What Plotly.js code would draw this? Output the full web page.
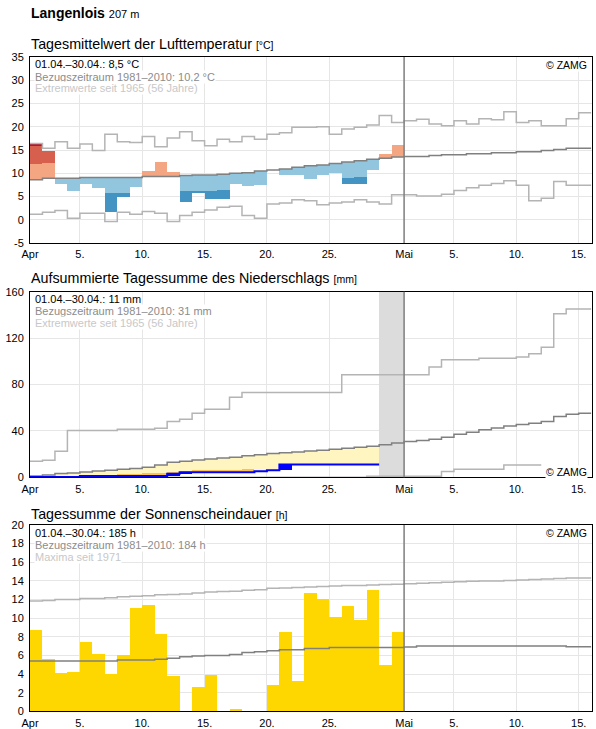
<!DOCTYPE html>
<html><head><meta charset="utf-8">
<script src="https://cdn.plot.ly/plotly-3.0.1.min.js"></script>
<style>body{margin:0;padding:0;background:#fff}#chart{width:596px;height:729px}</style>
</head><body><div id="chart"></div>
<script>
// x axis: days counted from 1 April (0 = start of Apr 1)
const tickVals = [0,4,9,14,19,24,30,34,39,44];
const tickText = ['Apr','5.','10.','15.','20.','25.','Mai','5.','10.','15.'];

// ---- Temperature (°C) ----
const tempActual = [16.4,14.7,7.7,6.2,7.7,6.8,1.6,4.9,7.0,10.4,12.4,10.2,3.8,5.7,4.5,4.5,7.6,7.3,7.5,10.7,9.6,9.6,8.8,9.6,10.0,7.7,7.7,10.7,14.1,16.0];
const tempMean = [8.6,8.9,8.9,8.9,9.1,9.1,9.1,9.1,9.1,9.3,9.3,9.3,9.5,9.6,9.6,9.8,10.0,10.1,10.5,10.7,10.9,11.3,11.6,11.8,12.1,12.4,12.7,13.0,13.2,13.5,13.6,13.6,13.8,14.0,14.0,14.2,14.2,14.4,14.4,14.6,14.6,14.9,15.1,15.4,15.4];
const tempMax = [16.4,15.4,16.8,15.4,16.3,14.9,18.4,16.8,16.6,17.9,15.7,17.6,18.9,17.0,15.9,17.3,16.8,17.9,17.3,18.4,18.7,19.9,19.9,20.0,18.4,19.5,19.9,20.4,22.4,20.9,21.3,21.6,20.6,20.2,21.3,20.6,21.7,21.5,23.2,20.9,21.3,20.2,20.2,21.7,23.0];
const tempMaxBefore = [15.9]; // previous record of day 1
const tempMin = [1.2,1.6,2.0,0.3,1.4,1.4,-0.4,1.6,1.2,1.8,1.4,-0.4,0.9,1.6,2.1,2.7,2.9,0.9,0.3,3.4,3.6,4.3,4.1,3.2,3.6,3.8,4.3,3.8,3.4,5.4,5.4,5.1,5.1,5.5,6.3,6.9,7.4,7.8,8.4,7.4,4.1,4.6,8.2,7.4,7.4];
const tempStep = 3.4; // colour class width of the anomaly bars

// ---- Precipitation (mm) ----
const precipDaily = [0.3,0,0,0,0.9,0,0,0,0,0,0,1.8,1.4,0,0,0,0,0,0.9,0.8,4.9,0,0,0,0,0,0,0];
const precipMissingDays = [29, 30];
const precipMean = [1.2,2.0,3.2,3.7,4.6,5.5,6.0,6.9,7.5,8.6,10.6,12.9,13.8,15.0,15.8,16.7,17.3,18.5,19.5,20.5,21.2,21.8,22.6,23.4,24.2,25.0,26.0,26.8,28.0,29.6,30.8,31.7,32.8,34.5,37.1,38.8,40.9,42.6,44.3,45.5,46.6,48.1,52.4,54.4,55.3];
const precipMax = [13.8,14.6,22.4,40.3,40.3,40.3,40.3,41.4,41.4,41.4,42.3,48.1,50.1,55.3,58.7,58.7,69.1,73.1,73.1,73.1,73.1,73.1,73.1,73.1,73.1,88.3,88.3,88.3,88.3,88.3,88.3,88.3,95.0,101.3,101.3,101.3,102.7,102.7,102.7,103.6,106.5,112.2,141.0,145.0,145.0];
const precipMin = [0,0,0,0,0,0,0,0,0,0,0,0,0,0,0,0,0,0,0,0,0,0,0,0,0,0,0,1.0,1.0,1.0,1.0,1.0,1.0,4.9,6.9,6.9,6.9,6.9,10.6,10.6,10.6];
const precipOrange = [null,null,null,null,null,null,null,2.6,2.6,3.7,3.7,4.9,5.8,6.1,6.1,6.1,6.1,7.2,null,null];

// ---- Sunshine (h) ----
const sunHours = [8.7,5.6,4.1,4.2,7.4,6.1,4.0,6.0,11.1,11.4,8.3,3.8,0,2.6,3.9,0,0.2,0,0,2.8,8.5,3.3,12.7,12.1,10.1,11.3,9.8,13.0,5.0,8.5];
const sunMean = [5.4,5.4,5.4,5.4,5.4,5.4,5.4,5.5,5.5,5.5,5.6,5.7,5.85,5.95,6.0,6.0,6.1,6.3,6.4,6.5,6.6,6.6,6.75,6.75,6.86,6.86,6.86,6.86,6.86,6.86,6.9,7.0,7.0,7.0,7.0,7.0,7.0,7.0,7.0,7.0,7.0,7.0,7.0,6.93,6.93];
const sunMax = [11.85,11.9,12.0,12.0,12.1,12.1,12.2,12.3,12.35,12.4,12.5,12.55,12.6,12.7,12.8,12.85,12.9,13.0,13.05,13.2,13.25,13.3,13.35,13.4,13.45,13.5,13.5,13.55,13.6,13.65,13.7,13.75,13.8,13.85,13.9,13.95,14.0,14.0,14.05,14.1,14.15,14.2,14.25,14.3,14.3];

const W = 596, H = 729;
const px = x => x / W, py = y => 1 - y / H;
const FONT = 'Liberation Sans, Arial, sans-serif';
const GRID = '#e6e6e6', MEANC = '#808080', EXTC = '#b4b4b4';

function step(vals, xa, ya, color, width) {
  const xs = [], ys = [];
  vals.forEach((v, i) => { xs.push(i); ys.push(v); });
  xs.push(vals.length); ys.push(vals[vals.length - 1]);
  return {type:'scatter', mode:'lines', x:xs, y:ys, xaxis:xa, yaxis:ya,
          line:{shape:'hv', color, width}, hoverinfo:'skip', showlegend:false};
}
function bars(list, xa, ya, color) {
  // list of [dayIndex(0-based), base, top]
  const f = list.filter(d => d[2] > d[1]);
  return {type:'bar', x:f.map(d => d[0] + 0.5), base:f.map(d => d[1]), y:f.map(d => d[2] - d[1]),
          width:f.map(() => 1), xaxis:xa, yaxis:ya, marker:{color, line:{width:0}},
          hoverinfo:'skip', showlegend:false};
}

// temperature anomaly layers
const salmon = [], red = [], dred = [], lblue = [], dblue = [];
tempActual.forEach((a, i) => {
  const m = tempMean[i];
  const prev = i < tempMaxBefore.length ? tempMaxBefore[i] : tempMax[i];
  if (a > m) {
    salmon.push([i, m, Math.min(a, m + tempStep)]);
    if (a > m + tempStep) red.push([i, m + tempStep, Math.min(a, prev)]);
    if (a > prev) dred.push([i, prev, a]);
  } else if (a < m) {
    lblue.push([i, Math.max(a, m - tempStep), m]);
    if (a < m - tempStep) dblue.push([i, a, m - tempStep]);
  }
});

// precipitation cumulative
const precipCum = [];
precipDaily.reduce((s, v, i) => { precipCum[i] = s + v; return s + v; }, 0);
const yellow = precipCum.map((c, i) => [i, c, precipMean[i]]);
const orange = precipOrange.map((o, i) => o == null ? [i, 0, 0] : [i, precipCum[i], o]);
const blueBars = precipDaily.map((v, i) => [i, precipCum[i] - v, precipCum[i]]);
const missing = precipMissingDays.map(d => [d - 1, 0, 160]);

const traces = [
  bars(salmon, 'x', 'y', '#f4a582'),
  bars(red, 'x', 'y', '#d6604d'),
  bars(dred, 'x', 'y', '#b2182b'),
  bars(lblue, 'x', 'y', '#92c5de'),
  bars(dblue, 'x', 'y', '#4393c3'),
  step(tempMax, 'x', 'y', EXTC, 1.5),
  step(tempMin, 'x', 'y', EXTC, 1.5),
  step(tempMean, 'x', 'y', MEANC, 1.5),

  bars(missing, 'x2', 'y2', '#dcdcdc'),
  bars(yellow, 'x2', 'y2', '#fff5c0'),
  bars(orange, 'x2', 'y2', '#fdbf5a'),
  bars(blueBars, 'x2', 'y2', '#0000ff'),
  step(precipMax, 'x2', 'y2', EXTC, 1.5),
  step(precipMin, 'x2', 'y2', EXTC, 1.5),
  step(precipMean, 'x2', 'y2', MEANC, 1.5),
  step(precipCum, 'x2', 'y2', '#0000ff', 2),

  bars(sunHours.map((v, i) => [i, 0, v]), 'x3', 'y3', '#ffd700'),
  step(sunMax, 'x3', 'y3', EXTC, 1.5),
  step(sunMean, 'x3', 'y3', MEANC, 1.5)
];

function xax(anchor) {
  return {domain:[px(30), px(592)], range:[0, 45.07], anchor, tickmode:'array', tickvals:tickVals, ticktext:tickText,
    showgrid:true, gridcolor:GRID, gridwidth:1, showline:true, linecolor:'#000', linewidth:1, mirror:true,
    ticks:'outside', ticklen:1, tickcolor:'rgba(0,0,0,0)', tickfont:{size:11, color:'#000', family:FONT},
    zeroline:false, fixedrange:true, automargin:false};
}
function yax(anchor, top, bottom, range, vals) {
  return {domain:[py(bottom), py(top)], range, anchor, tickmode:'array', tickvals:vals, ticktext:vals.map(String),
    showgrid:true, gridcolor:GRID, gridwidth:1, showline:true, linecolor:'#000', linewidth:1, mirror:true,
    ticks:'outside', ticklen:3, tickcolor:'rgba(0,0,0,0)', tickfont:{size:11, color:'#000', family:FONT},
    zeroline:false, fixedrange:true, automargin:false};
}
const range = (a, b, s) => { const r = []; for (let v = a; v <= b; v += s) r.push(v); return r; };

const plots = [{top:57, bottom:243}, {top:291.7, bottom:477.3}, {top:525, bottom:711.3}];

function note(text, x, y, color, opts = {}) {
  return Object.assign({xref:'paper', yref:'paper', x:px(x), y:py(y), xanchor:'left', yanchor:'middle',
    text, showarrow:false, bgcolor:'#fff', borderpad:0, font:{family:FONT, size:11, color}}, opts);
}
const annotations = [
  {xref:'paper', yref:'paper', x:px(29), y:py(13), xanchor:'left', yanchor:'middle', showarrow:false,
   text:'<b>Langenlois</b> <span style="font-size:11px">207 m</span>', font:{family:FONT, size:14, color:'#000'}},
  {xref:'paper', yref:'paper', x:px(29), y:py(44), xanchor:'left', yanchor:'middle', showarrow:false,
   text:'Tagesmittelwert der Lufttemperatur <span style="font-size:10.5px">[°C]</span>', font:{family:FONT, size:14.3, color:'#000'}},
  {xref:'paper', yref:'paper', x:px(29), y:py(278), xanchor:'left', yanchor:'middle', showarrow:false,
   text:'Aufsummierte Tagessumme des Niederschlags <span style="font-size:10.5px">[mm]</span>', font:{family:FONT, size:14.3, color:'#000'}},
  {xref:'paper', yref:'paper', x:px(29), y:py(514), xanchor:'left', yanchor:'middle', showarrow:false,
   text:'Tagessumme der Sonnenscheindauer <span style="font-size:10.5px">[h]</span>', font:{family:FONT, size:14.3, color:'#000'}}
];
const infos = [
  ['01.04.–30.04.: 8,5 °C', 'Bezugszeitraum 1981–2010: 10,2 °C', 'Extremwerte seit 1965 (56 Jahre)'],
  ['01.04.–30.04.: 11 mm', 'Bezugszeitraum 1981–2010: 31 mm', 'Extremwerte seit 1965 (56 Jahre)'],
  ['01.04.–30.04.: 185 h', 'Bezugszeitraum 1981–2010: 184 h', 'Maxima seit 1971']
];
const infoColors = ['#000', '#8c8c8c', '#c8c8c8'];
plots.forEach((p, k) => {
  infos[k].forEach((t, j) => annotations.push(note(t, 34, p.top + 7.5 + 12 * j, infoColors[j])));
  const zy = k === 1 ? p.bottom - 5 : p.top + 8;
  annotations.push(note('© ZAMG', 588, zy, '#000', {xanchor:'right', font:{family:FONT, size:10.5, color:'#000'}}));
});

// vertical "Mai" marker line in each panel
const shapes = plots.map(p => ({type:'line', xref:'paper', yref:'paper',
  x0:px(30 + 30 * 562 / 45.07), x1:px(30 + 30 * 562 / 45.07), y0:py(p.bottom), y1:py(p.top),
  line:{color:MEANC, width:1.5}, layer:'above'}));

const layout = {
  width:W, height:H, margin:{l:0, r:0, t:0, b:0}, paper_bgcolor:'#fff', plot_bgcolor:'#fff',
  font:{family:FONT, color:'#000'}, showlegend:false, barmode:'overlay', bargap:0,
  xaxis:xax('y'), xaxis2:xax('y2'), xaxis3:xax('y3'),
  yaxis:yax('x', 57, 243, [-5, 35], range(-5, 35, 5)),
  yaxis2:yax('x2', 291.7, 477.3, [0, 160], [0, 40, 80, 120, 160]),
  yaxis3:yax('x3', 525, 711.3, [0, 20], range(0, 20, 2)),
  annotations, shapes
};

Plotly.newPlot('chart', traces, layout, {staticPlot:true, displayModeBar:false});
</script></body></html>
